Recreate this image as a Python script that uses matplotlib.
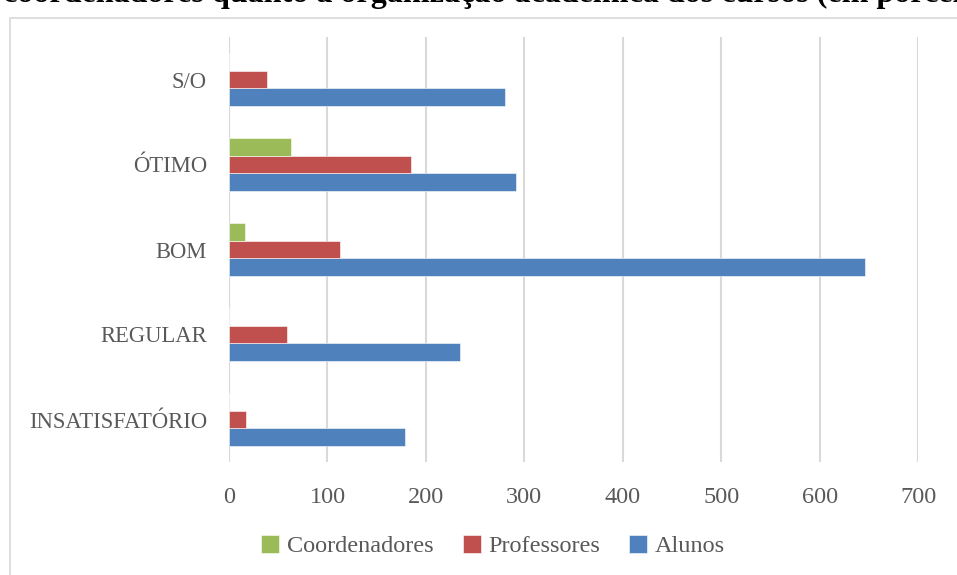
import numpy as np
import matplotlib.pyplot as plt
from matplotlib.patches import Rectangle

categorias = ["INSATISFATÓRIO", "REGULAR", "BOM", "ÓTIMO", "S/O"]
alunos = [179, 235, 646, 292, 280]
professores = [17, 59, 113, 185, 39]
coordenadores = [0, 0, 16, 63, 0]

series = ["Alunos", "Professores", "Coordenadores"]
cores = {"Alunos": "#4F81BD", "Professores": "#C0504D", "Coordenadores": "#9BBB59"}
xticks = [0, 100, 200, 300, 400, 500, 600, 700]

titulo = "coordenadores quanto à organização acadêmica dos cursos (em porcentagem)"

W, H = 957, 575
fig = plt.figure(figsize=(W / 100, H / 100), dpi=100)
ax = fig.add_axes([229 / W, 1 - 462 / H, (918 - 229) / W, (462 - 37) / H])

# moldura cinza do gráfico
fig.patches.append(Rectangle((10 / W, -0.1), 1.2, 1 - 18 / H + 0.1, transform=fig.transFigure,
                             fill=False, edgecolor="#D9D9D9", lw=1.2))

y = np.arange(len(categorias))
h = 0.205
vals = {"Alunos": alunos, "Professores": professores, "Coordenadores": coordenadores}
offs = {"Alunos": -h, "Professores": 0, "Coordenadores": h}
for s in series:
    ax.barh(y + offs[s], vals[s], height=h, color=cores[s], edgecolor="white", linewidth=0.4,
            label=s, zorder=3)

ax.set_xlim(0, 700)
ax.set_ylim(-0.5, len(categorias) - 0.5)
ax.set_xticks(xticks)
ax.set_yticks(y)
ax.set_yticklabels(categorias)
ax.grid(axis="x", color="#D9D9D9", lw=1.5, zorder=0)
ax.axvline(0, color="#D9D9D9", lw=1.5, zorder=1)
for sp in ax.spines.values():
    sp.set_visible(False)
ax.tick_params(length=0, labelcolor="#595959")
ax.tick_params(axis="x", pad=18, labelsize=17.5)
ax.tick_params(axis="y", pad=16, labelsize=16.3)
for lab in ax.get_xticklabels() + ax.get_yticklabels():
    lab.set_family("Liberation Serif")

handles, labels = ax.get_legend_handles_labels()
order = [2, 1, 0]
leg = fig.legend([handles[i] for i in order], [labels[i] for i in order], loc="center",
                 bbox_to_anchor=(493 / W, 1 - 546 / H), ncol=3, frameon=False,
                 handlelength=0.75, handleheight=0.75, handletextpad=0.3, columnspacing=1.2,
                 prop={"family": "Liberation Serif", "size": 17.5})
for t in leg.get_texts():
    t.set_color("#595959")

# título cortado no topo: ajusta o tamanho para "(em" começar por volta de x=817
r = fig.canvas.get_renderer()
tmp = fig.text(0, 0, "coordenadores quanto à organização acadêmica dos cursos ",
               family="Liberation Serif", fontweight="bold", fontsize=26)
wpre = tmp.get_window_extent(r).width
tmp.remove()
fs = 26 * (817 - 3) / wpre
fig.text(3 / W, 1 - 2 / H, titulo, family="Liberation Serif", fontweight="bold",
         fontsize=fs, va="baseline", ha="left")

plt.savefig("out.png", dpi=100)
